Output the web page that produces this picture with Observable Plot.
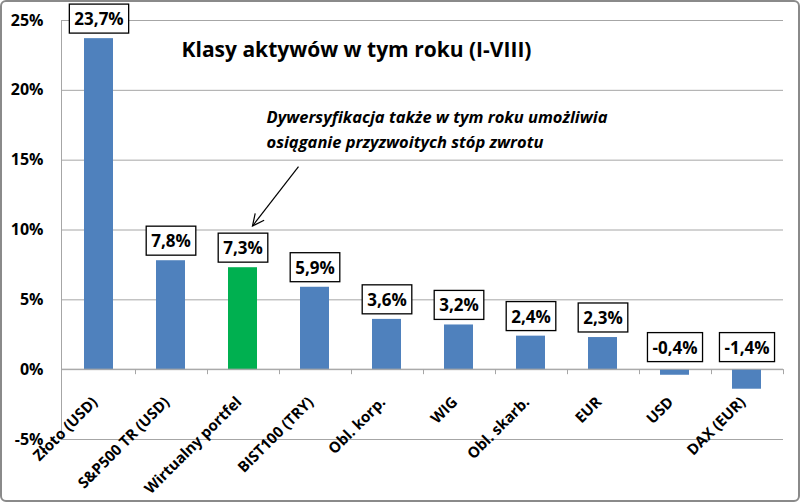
<!DOCTYPE html>
<html><head><meta charset="utf-8">
<script src="https://cdn.jsdelivr.net/npm/d3@7"></script>
<script src="https://cdn.jsdelivr.net/npm/@observablehq/plot@0.6"></script>
<style>body{margin:0;background:#fff} svg{display:block}</style>
</head><body><div id="chart"></div>
<script>
const categories = ["Złoto (USD)", "S&P500 TR (USD)", "Wirtualny portfel", "BIST100 (TRY)", "Obl. korp.", "WIG", "Obl. skarb.", "EUR", "USD", "DAX (EUR)"];
const values = [23.7, 7.8, 7.3, 5.9, 3.6, 3.2, 2.4, 2.3, -0.4, -1.4];
const highlight = "Wirtualny portfel";
const yTicks = [-5, 0, 5, 10, 15, 20, 25];
const title = "Klasy aktywów w tym roku (I-VIII)";
const note = "Dywersyfikacja także w tym roku umożliwia\nosiąganie przyzwoitych stóp zwrotu";

const data = categories.map((c, i) => ({cat: c, value: values[i]}));
const fmt = v => v.toFixed(1).replace(".", ",") + "%";
const font = "'Open Sans', Lato, sans-serif";
const gridColor = "#a6a6a6";

const axisMark = (index, {x, y}, values, dims) => {
  const g = d3.create("svg:g");
  const step = x.step(), bw = x.bandwidth();
  const y0 = y(0);
  g.append("line").attr("x1", dims.marginLeft).attr("x2", dims.width - dims.marginRight)
    .attr("y1", y0).attr("y2", y0).attr("stroke", gridColor);
  g.append("line").attr("x1", dims.marginLeft + 0.5).attr("x2", dims.marginLeft + 0.5)
    .attr("y1", y(25)).attr("y2", y(-5)).attr("stroke", gridColor);
  const bounds = categories.map(c => x(c) + bw / 2 - step / 2);
  bounds.push(x(categories[categories.length - 1]) + bw / 2 + step / 2);
  bounds.slice(1).forEach(b => {
    g.append("line").attr("x1", Math.round(b) + 0.5).attr("x2", Math.round(b) + 0.5)
      .attr("y1", y0).attr("y2", y0 + 5).attr("stroke", gridColor);
  });
  // annotation arrow
  const cx = x(highlight) + bw / 2;
  const x1 = cx + 56, y1 = y(14.5), x2 = cx + 10, y2 = y(10.25);
  const ang = Math.atan2(y2 - y1, x2 - x1);
  const L = 13, a = 0.45;
  g.append("line").attr("x1", x1).attr("y1", y1).attr("x2", x2).attr("y2", y2)
    .attr("stroke", "#000").attr("stroke-width", 1.2);
  g.append("path")
    .attr("d", `M${x2 - L * Math.cos(ang - a)},${y2 - L * Math.sin(ang - a)}L${x2},${y2}L${x2 - L * Math.cos(ang + a)},${y2 - L * Math.sin(ang + a)}`)
    .attr("fill", "none").attr("stroke", "#000").attr("stroke-width", 1.2);
  return g.node();
};

const labelOpts = {x: "cat", text: d => fmt(d.value), fontSize: 17, fontWeight: "bold"};

const chart = Plot.plot({
  width: 800,
  height: 502,
  marginLeft: 61,
  marginRight: 17,
  marginTop: 20,
  marginBottom: 63,
  style: {fontFamily: font, color: "#000", background: "#fff"},
  x: {domain: categories, paddingInner: 0.6, paddingOuter: 0.3, axis: null},
  y: {domain: [-5, 25], axis: null},
  marks: [
    Plot.gridY(yTicks, {stroke: gridColor, strokeOpacity: 1}),
    Plot.axisY(yTicks, {tickSize: 0, tickPadding: 18, tickFormat: d => d + "%", fontSize: 16, fontWeight: "bold", label: null}),
    Plot.barY(data, {x: "cat", y: "value", fill: d => d.cat === highlight ? "#00B050" : "#4F81BD"}),
    axisMark,
    Plot.text(categories, {x: d => d, y: () => 0, rotate: -45, textAnchor: "end", dx: -4, dy: 30, fontSize: 15, fontWeight: "bold"}),
    Plot.text(data.filter(d => d.value >= 0), {...labelOpts, y: "value", dy: -19}),
    Plot.text(data.filter(d => d.value < 0), {...labelOpts, y: () => 0, dy: -21.5}),
    Plot.text([title], {frameAnchor: "top", lineAnchor: "middle", dx: -66, dy: 30, fontSize: 21, fontWeight: "bold"}),
    Plot.text([note], {frameAnchor: "top-left", lineAnchor: "middle", dx: 205, dy: 107, textAnchor: "start", lineHeight: 1.52, fontSize: 16.5, fontWeight: "bold", fontStyle: "italic"})
  ]
});

document.getElementById("chart").appendChild(chart);

// boxes behind the value labels
const labelSet = new Set(values.map(fmt));
chart.querySelectorAll("text").forEach(t => {
  if (!labelSet.has(t.textContent)) return;
  const b = t.getBBox();
  const r = document.createElementNS("http://www.w3.org/2000/svg", "rect");
  const h = 29, w = b.width + 10;
  r.setAttribute("x", b.x + b.width / 2 - w / 2);
  r.setAttribute("y", b.y + b.height / 2 - h / 2);
  r.setAttribute("width", w);
  r.setAttribute("height", h);
  r.setAttribute("fill", "#fff");
  r.setAttribute("stroke", "#000");
  r.setAttribute("stroke-width", 1.3);
  const tr = t.getAttribute("transform");
  if (tr) r.setAttribute("transform", tr);
  t.parentNode.insertBefore(r, t);
});
// outer border
const border = document.createElementNS("http://www.w3.org/2000/svg", "rect");
border.setAttribute("x", 1); border.setAttribute("y", 1);
border.setAttribute("width", 798); border.setAttribute("height", 500);
border.setAttribute("rx", 5);
border.setAttribute("fill", "none"); border.setAttribute("stroke", "#8a8a8a"); border.setAttribute("stroke-width", 2);
chart.appendChild(border);
</script>
</body></html>
